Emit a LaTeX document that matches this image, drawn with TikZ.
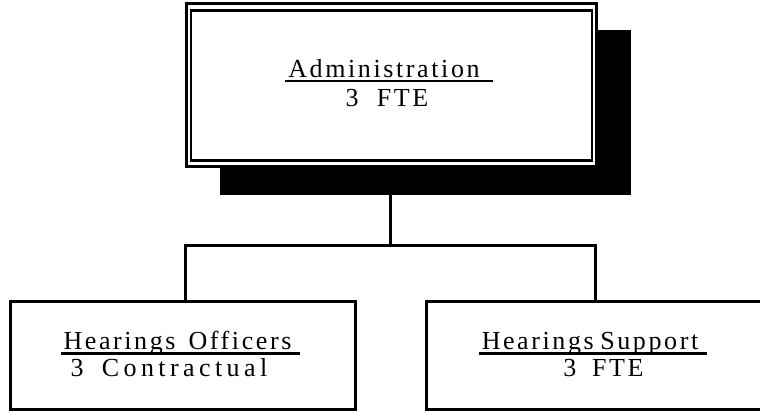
\documentclass[tikz,border=0pt]{standalone}
\usepackage{fontspec}
\setmainfont{Liberation Serif}[LetterSpace=10]
\newcommand\ultext[2]{\setbox0=\hbox{#1}\hbox to \dimexpr\wd0+#2\relax{\rlap{\hspace{-3pt}\rule[-4.5pt]{\dimexpr\wd0+#2+3pt\relax}{2.5pt}}\box0\hfil}}
\begin{document}
\begin{tikzpicture}[x=1pt,y=-1pt,
  shadowbox/.style={fill=black,draw=none,inner sep=0pt,minimum width=411pt,minimum height=165pt},
  outerbox/.style={draw=black,fill=white,line width=3pt,inner sep=0pt,minimum width=410.5pt,minimum height=163pt},
  innerbox/.style={draw=black,line width=2.5pt,inner sep=0pt,minimum width=401pt,minimum height=150pt},
  unitbox/.style={draw=black,fill=white,line width=3pt,inner sep=0pt,minimum height=108pt},
  conn/.style={draw=black,line width=3pt,line cap=rect},
  lbl/.style={font=\fontsize{26}{30}\selectfont,inner sep=0pt,anchor=base}]
\useasboundingbox (0,0) rectangle (760,411);
% top box with shadow and double border
\node[shadowbox] (shadow) at (425.5,112.5) {};
\node[outerbox] (outer) at (391.25,85) {};
\node[innerbox] (inner) at (391.5,85.5) {};
% lower boxes
\node[unitbox,minimum width=345pt] (left) at (182.5,355.5) {};
\node[unitbox,minimum width=336pt] (right) at (594,355.5) {};
% connectors
\coordinate (bus) at (390.5,246);
\draw[conn] (shadow.south -| bus) -- (bus);
\draw[conn] ([xshift=2.5pt]left.north) |- (bus) -| ([xshift=1.5pt]right.north);
% labels
\node[lbl] (admT) at (390.5,78) {\ultext{Administration}{13pt}};
\node[lbl] (admC) at (387,107) {3\hspace{0.7em}FTE};
\node[lbl] (hoT) at (182,350) {\ultext{Hearings\hspace{0.5em}Officers}{9pt}};
\node[lbl] (hoC) at (169,377) {\addfontfeature{LetterSpace=17}3\hspace{0.7em}Contractual};
\node[lbl] (hsT) at (594.5,350) {\ultext{Hearings\hspace{0.25em}Support}{9pt}};
\node[lbl] (hsC) at (603.5,377) {3\hspace{0.6em}FTE};
\end{tikzpicture}
\end{document}
